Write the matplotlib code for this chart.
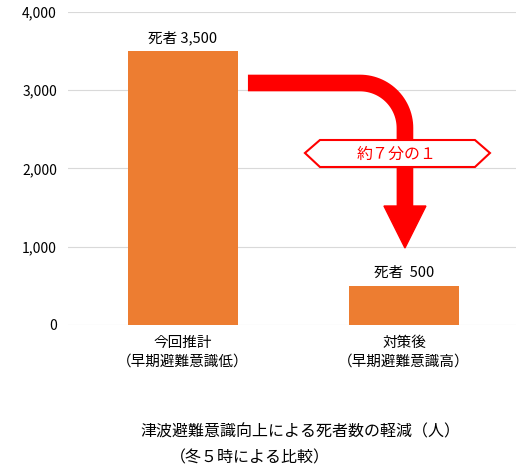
import numpy as np
import matplotlib.pyplot as plt
from matplotlib.patches import Polygon

plt.rcParams['font.family'] = ['Noto Sans CJK JP', 'DejaVu Sans']

categories = ['今回推計\n（早期避難意識低）', '対策後\n（早期避難意識高）']
deaths = [3500, 500]
bar_labels = ['死者 3,500', '死者  500']
yticks = [0, 1000, 2000, 3000, 4000]

W, H = 522, 474
fig = plt.figure(figsize=(W / 100, H / 100), dpi=100)
ax = fig.add_axes([68 / W, (H - 325) / H, 448 / W, 313 / H])

x = np.arange(len(categories))
ax.bar(x, deaths, width=0.5, color='#ED7D31', zorder=2)
ax.set_xlim(-0.52, 1.507)
ax.set_ylim(0, 4000)
ax.set_yticks(yticks)
ax.set_yticklabels([f'{v:,}' for v in yticks], fontsize=10)
ax.set_xticks(x)
ax.set_xticklabels(categories, fontsize=10.5, linespacing=1.4)
ax.tick_params(length=0, pad=8)
ax.grid(axis='y', color='#d9d9d9', lw=0.8, zorder=0)
for s in ax.spines.values():
    s.set_visible(False)
for xi, v, lab in zip(x, deaths, bar_labels):
    ax.text(xi, v + 80, lab, ha='center', va='bottom', fontsize=10.5)


def px(xp, yp):
    # pixel (from top-left) -> data
    return ((xp - 183) / 221, (325 - yp) / 313 * 4000)


# curved red arrow
cx, cy, r = 360, 128, 45
t = np.linspace(-np.pi / 2, 0, 30)
pts = [(248, 83)] + [(cx + r * np.cos(a), cy + r * np.sin(a)) for a in t] + [(405, 208)]
d = np.array([px(*p) for p in pts])
ax.plot(d[:, 0], d[:, 1], color='#FF0000', lw=12, solid_capstyle='butt',
        solid_joinstyle='round', zorder=3, clip_on=False)
head = [px(384, 206), px(426, 206), px(405, 248)]
ax.add_patch(Polygon(head, closed=True, color='#FF0000', zorder=3))

hexa = [px(305, 153), px(320, 140), px(475, 140), px(490, 153), px(475, 167), px(320, 167)]
ax.add_patch(Polygon(hexa, closed=True, facecolor='white', edgecolor='#FF0000',
                     lw=1.5, zorder=4, clip_on=False))
ax.text(*px(397, 154), '約７分の１', ha='center', va='center', color='#FF0000',
        fontsize=11.5, zorder=5)

fig.text(300 / W, 1 - 432 / H, '津波避難意識向上による死者数の軽減（人）',
         ha='center', va='center', fontsize=11.5)
fig.text(250 / W, 1 - 458 / H, '（冬５時による比較）', ha='center', va='center', fontsize=11.5)

fig.savefig('out.png', dpi=100)
